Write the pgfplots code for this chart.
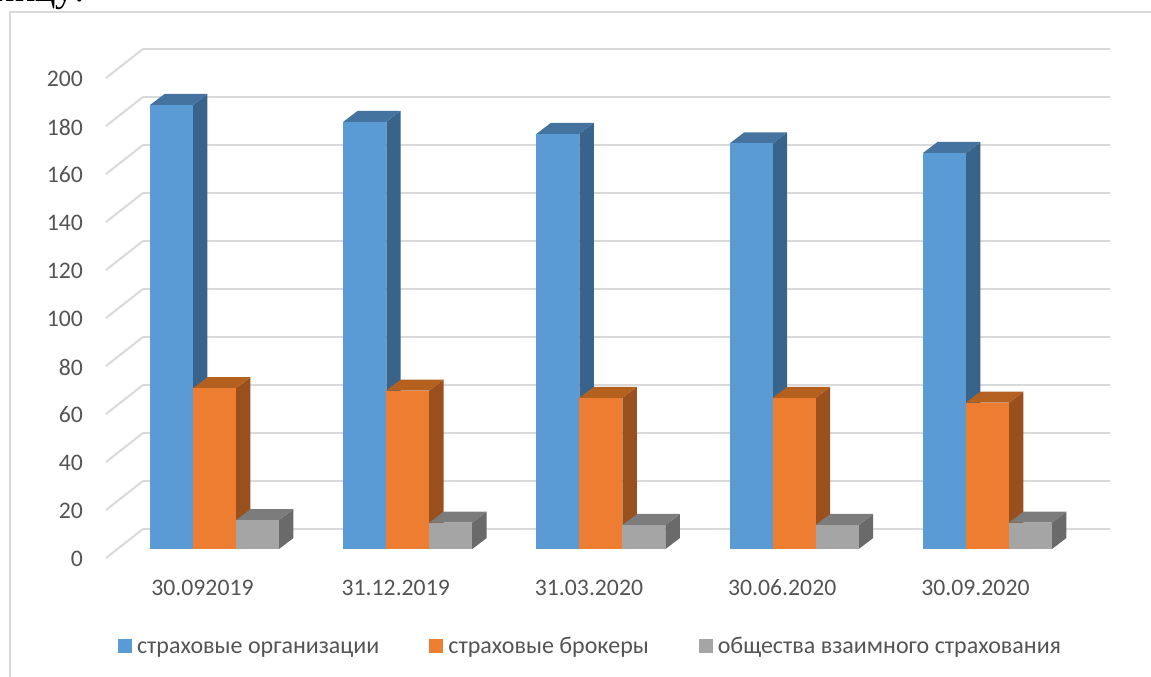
\documentclass[border=0pt]{standalone}
\usepackage{pgfplots}
\pgfplotsset{compat=1.18}
\usepackage{fontspec}
\setmainfont{Carlito}
\newfontfamily\serifpart{Liberation Serif}

\definecolor{txt}{HTML}{545454}
\definecolor{gridc}{HTML}{D9D9D9}
\definecolor{blueF}{HTML}{5B9BD5}
\definecolor{blueS}{HTML}{38638A}
\definecolor{blueT}{HTML}{44739F}
\definecolor{orangeF}{HTML}{ED7D31}
\definecolor{orangeS}{HTML}{99501D}
\definecolor{orangeT}{HTML}{B4601F}
\definecolor{grayF}{HTML}{A5A5A5}
\definecolor{grayS}{HTML}{6A6A6A}
\definecolor{grayT}{HTML}{7C7C7C}

% one px of the reference = 1pt here
% depth of a bar: 14.5px across, 11px up
\def\dx{0.075}
\def\dy{4.583}
\def\bw{0.2225}

% \onebar{group}{slot}{value}{colour prefix}
\newcommand{\onebar}[4]{%
  \pgfmathsetmacro\xa{#1+(#2-1.5)*\bw}
  \pgfmathsetmacro\xb{\xa+\bw}
  \pgfmathsetmacro\xc{\xb+\dx}
  \pgfmathsetmacro\xd{\xa+\dx}
  \pgfmathsetmacro\yt{#3+\dy}
  \edef\temp{%
    \noexpand\addplot[forget plot,fill=#4S,draw=none] coordinates {(\xb,0)(\xc,\dy)(\xc,\yt)(\xb,#3)} --cycle;
    \noexpand\addplot[forget plot,fill=#4T,draw=none] coordinates {(\xa,#3)(\xb,#3)(\xc,\yt)(\xd,\yt)} --cycle;
    \noexpand\addplot[forget plot,fill=#4F,draw=none] coordinates {(\xa,0)(\xb,0)(\xb,#3)(\xa,#3)} --cycle;
  }\temp
}

\begin{document}
\begin{tikzpicture}[x=1pt,y=1pt]
\useasboundingbox (0,0) rectangle (1151,677);
% frame and the bit of page text above the chart
\draw[gridc,line width=1.5pt] (10,0) -- (10,665) -- (1151,665);
\node[anchor=base east,inner sep=0pt,text=black,font=\serifpart\fontsize{38}{42}\selectfont] at (85,675) {ницу:};

\begin{axis}[
  at={(143pt,128pt)},
  anchor=south west,
  scale only axis,
  width=967pt,
  height=480pt,
  xmin=-0.37, xmax=4.634,
  ymin=0, ymax=200,
  clip=false,
  axis line style={draw=none},
  tick style={draw=none},
  ytick={0,20,...,200},
  xtick={0,1,2,3,4},
  xticklabels={30.092019,31.12.2019,31.03.2020,30.06.2020,30.09.2020},
  ymajorgrids,
  major grid style={gridc,line width=2pt,yshift=20pt},
  axis on top=false,
  tick label style={text=txt,font=\fontsize{23.7}{27}\selectfont},
  /pgf/number format/assume math mode=true,
  yticklabel style={anchor=east,xshift=-56.5pt,yshift=-10pt},
  xticklabel style={anchor=center,xshift=-12pt,yshift=-39pt},
  legend columns=3,
  legend style={
    draw=none,fill=none,inner sep=0pt,
    at={(axis description cs:-0.026,-0.200)},anchor=west,
    text=txt,font=\fontsize{24}{27}\selectfont,
    /tikz/every odd column/.append style={column sep=5pt},
    /tikz/every even column/.append style={column sep=50pt},
    nodes={inner sep=0pt,anchor=base west,text depth=0pt},
  },
  legend image code/.code={\fill[#1,draw=none] (0pt,0pt) rectangle (14pt,14pt);},
  legend cell align=left,
]
\addlegendimage{fill=blueF}
\addlegendentry{страховые организации}
\addlegendimage{fill=orangeF}
\addlegendentry{страховые брокеры}
\addlegendimage{fill=grayF}
\addlegendentry{общества взаимного страхования}

% floor and wall lines running to the front
\pgfplotsinvokeforeach{0,20,...,200}{
  \addplot[forget plot,gridc,line width=2pt] coordinates {(-0.37,#1+8.333)(-0.5615,#1-3.75)};
}

% values
\onebar{0}{0}{185}{blue}\onebar{0}{1}{67}{orange}\onebar{0}{2}{12}{gray}
\onebar{1}{0}{178}{blue}\onebar{1}{1}{66}{orange}\onebar{1}{2}{11}{gray}
\onebar{2}{0}{173}{blue}\onebar{2}{1}{63}{orange}\onebar{2}{2}{10}{gray}
\onebar{3}{0}{169}{blue}\onebar{3}{1}{63}{orange}\onebar{3}{2}{10}{gray}
\onebar{4}{0}{165}{blue}\onebar{4}{1}{61}{orange}\onebar{4}{2}{11}{gray}
\end{axis}
\end{tikzpicture}
\end{document}
